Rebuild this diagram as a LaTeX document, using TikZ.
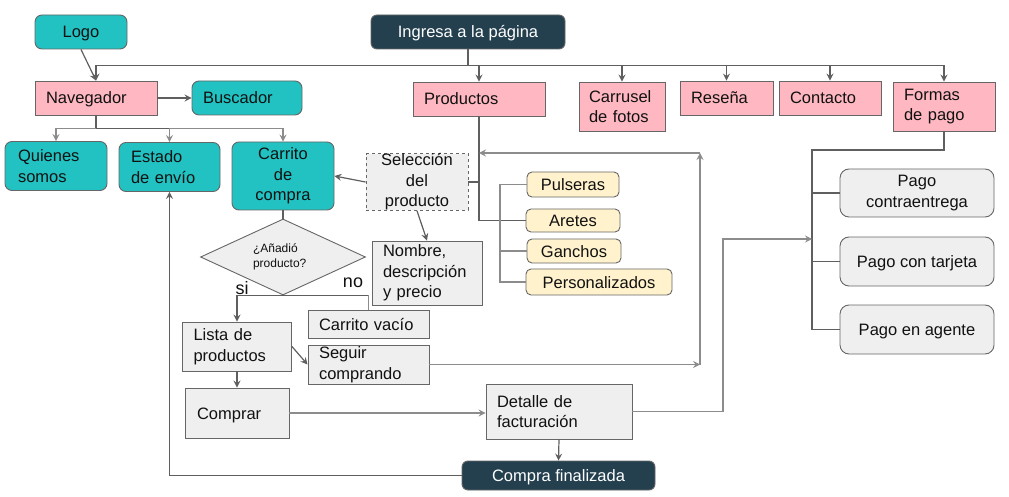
\documentclass[tikz,border=0pt]{standalone}
\usepackage{fontspec}
\setmainfont{Liberation Sans}
\usetikzlibrary{arrows.meta,shapes.geometric,calc}
\definecolor{tealc}{HTML}{22C2C2}
\definecolor{pinkc}{HTML}{FFB8C1}
\definecolor{darkc}{HTML}{24404F}
\definecolor{yellc}{HTML}{FFF2CC}
\definecolor{grayc}{HTML}{EFEFEF}
\definecolor{bdc}{HTML}{666666}
\definecolor{lnc}{HTML}{5F5F5F}
\definecolor{llc}{HTML}{8C8C8C}
\definecolor{txc}{HTML}{111111}
\begin{document}
\begin{tikzpicture}[x=1pt,y=-1pt,
  font=\fontsize{16.5}{20.5}\selectfont,
  box/.style={draw=bdc, line width=0.9pt, inner ysep=0pt, text=txc},
  one/.style={text height=12pt, text depth=0pt},
  lbox/.style={box, align=left, inner xsep=11pt},
  cbox/.style={box, align=center, inner xsep=2pt},
  tealbox/.style={fill=tealc, rounded corners=7pt},
  pinkbox/.style={fill=pinkc},
  darkbox/.style={box, fill=darkc, text=white, rounded corners=6pt, align=center},
  yellbox/.style={cbox, fill=yellc, rounded corners=5pt},
  graybox/.style={fill=grayc},
  pagobox/.style={cbox, fill=grayc, rounded corners=9pt},
  line/.style={draw=lnc, line width=1.2pt},
  lline/.style={draw=llc, line width=1.2pt},
  arr/.style={line, -{Stealth[length=7pt,width=7pt,inset=2.5pt]}},
  larr/.style={lline, -{Stealth[length=7pt,width=7pt,inset=2.5pt]}},
  lbl/.style={font=\fontsize{18}{20}\selectfont, text=txc, inner sep=0pt}
]
\useasboundingbox (0,0) rectangle (1009,497);

% top row
\node[cbox, tealbox, one, minimum width=92pt, minimum height=34pt] (logo) at (81,32) {Logo};
\node[darkbox, one, minimum width=194pt, minimum height=34pt] (ingresa) at (468,32) {Ingresa a la página};

\node[lbox, pinkbox, one, text width=100pt, minimum height=34pt] (nav) at (96,98) {Navegador};
\node[lbox, tealbox, one, text width=88pt, minimum height=34pt] (busc) at (247,98) {Buscador};
\node[lbox, pinkbox, one, text width=110pt, minimum height=34pt] (prod) at (479,99) {Productos};
\node[lbox, pinkbox, inner xsep=10pt, text width=66pt, minimum height=49pt] (carr) at (622,106.5) {Carrusel\\de fotos};
\node[lbox, pinkbox, one, text width=71pt, minimum height=34pt] (res) at (726.5,98) {Reseña};
\node[lbox, pinkbox, one, text width=80pt, minimum height=34pt] (cont) at (830,98) {Contacto};
\node[lbox, pinkbox, text width=80pt, minimum height=49pt] (formas) at (944,106.5) {Formas\\de pago};

% second row
\node[lbox, tealbox, inner xsep=13pt, text width=76pt, minimum height=49pt] (quien) at (56,166) {Quienes\\somos};
\node[lbox, tealbox, inner xsep=12pt, text width=77pt, minimum height=49pt] (estado) at (169.5,167) {Estado\\de envío};
\node[cbox, tealbox, minimum width=102pt, minimum height=68pt] (carrito) at (283,176) {Carrito\\de\\compra};
\node[cbox, graybox, dashed, minimum width=102pt, minimum height=56pt] (selec) at (417,182) {Selección\\del\\producto};

% product types
\node[yellbox, one, minimum width=92pt, minimum height=25pt] (puls) at (573,184.5) {Pulseras};
\node[yellbox, one, minimum width=94pt, minimum height=23pt] (aret) at (573,220.5) {Aretes};
\node[yellbox, one, minimum width=94pt, minimum height=24pt] (ganch) at (574,251) {Ganchos};
\node[yellbox, one, minimum width=146pt, minimum height=26pt] (pers) at (599,282) {Personalizados};

% decision
\node[diamond, draw=bdc, line width=0.9pt, fill=grayc, aspect=2.17, minimum width=165pt, minimum height=76pt, inner sep=0pt, align=left, text=txc, font=\fontsize{12}{15}\selectfont] (diam) at (283,257) {\raisebox{-3pt}{\parbox{60pt}{¿Añadió\\producto?}}};
\node[lbl] (si) at (242,288) {si};
\node[lbl] (no) at (353,283) {no};

\node[lbox, graybox, text width=88pt, minimum height=64pt] (nombre) at (427,273) {Nombre,\\descripción\\y precio};
\node[lbox, graybox, one, text width=99pt, minimum height=28pt] (vacio) at (368.5,324) {Carrito vacío};
\node[lbox, graybox, text width=87pt, minimum height=49pt] (lista) at (237,346.5) {Lista de\\productos};
\node[lbox, graybox, text width=99pt, minimum height=39pt] (seguir) at (368.5,364.5) {Seguir\\comprando};
\node[lbox, graybox, one, inner xsep=12pt, text width=80pt, minimum height=50pt] (comprar) at (237,413) {Comprar};
\node[lbox, graybox, text width=124pt, minimum height=55pt] (detalle) at (559,411.5) {Detalle de\\facturación};
\node[darkbox, one, minimum width=193pt, minimum height=29pt] (final) at (558.5,475.5) {Compra finalizada};

% payment
\node[pagobox, minimum width=154pt, minimum height=48pt] (pc) at (917,193) {Pago\\contraentrega};
\node[pagobox, one, minimum width=154pt, minimum height=49pt] (pt) at (917,261.5) {Pago con tarjeta};
\node[pagobox, one, minimum width=154pt, minimum height=49pt] (pa) at (917,329.5) {Pago en agente};

% ---- connectors ----
\draw[arr] (logo.south) -- (nav.north);
\draw[line] (ingresa.south) -- ++(0,16) coordinate (bus);
\draw[line] (nav.north |- bus) -- (formas.north |- bus);
\draw[arr] (nav.north |- bus) -- (nav.north);
\draw[arr] (prod.north |- bus) -- (prod.north);
\draw[arr] (carr.north |- bus) -- (carr.north);
\draw[arr] (res.north |- bus) -- (res.north);
\draw[arr] (cont.north |- bus) -- (cont.north);
\draw[arr] (formas.north |- bus) -- (formas.north);

\draw[arr] (nav.east) -- (busc.west);
\draw[line] (nav.south) -- ++(0,13) coordinate (bus2);
\draw[lline] (quien.north |- bus2) -- (carrito.north |- bus2);
\draw[line] (nav.south |- bus2) -- (estado.north |- bus2);
\draw[larr] (quien.north |- bus2) -- (quien.north);
\draw[larr] (estado.north |- bus2) -- (estado.north);
\draw[larr] (carrito.north |- bus2) -- (carrito.north);

\draw[arr] (selec.west) -- (carrito.east);
\draw[arr] (selec.south) -- (nombre.north);
\draw[line] (prod.south) |- (aret.west);
\draw[line] (selec.east) -- (selec.east -| prod.south);

\coordinate (ystem) at (500,0);
\draw[lline] (puls.west) -| (ystem |- pers.west) -- (pers.west);
\draw[lline] (ganch.west) -- (ganch.west -| ystem);

\draw[line] (carrito.south) -- (diam.north);
\draw[line] (lista.north |- diam.south) -- (vacio.north |- diam.south);
\draw[arr] (lista.north |- diam.south) -- (lista.north);
\draw[lline] (vacio.north |- diam.south) -- (vacio.north);

\draw[arr] (lista.east) -- (seguir.west);
\draw[arr] (lista.south) -- (comprar.north);
\draw[larr] (comprar.east) -- (comprar.east -| detalle.west);
\draw[arr] (detalle.south) -- (final.north);
\draw[arr] (final.west) -| (estado.south);

% loop back from Seguir comprando
\coordinate (sc) at (700,364.5);
\coordinate (st) at (700,153);
\draw[larr] (seguir.east) -- (sc);
\draw[larr] (sc) -- (st);
\draw[larr] (st) -- (st -| prod.south);

% payments
\coordinate (pstem) at (812,150);
\draw[line] (formas.south) |- (pstem) -- (pstem |- pa.west) -- (pa.west);
\draw[line] (pstem |- pc.west) -- (pc.west);
\draw[line] (pstem |- pt.west) -- (pt.west);
\coordinate (dc) at (723,239);
\draw[larr] (detalle.east) -| (dc) -- (dc -| pstem);
\end{tikzpicture}
\end{document}
